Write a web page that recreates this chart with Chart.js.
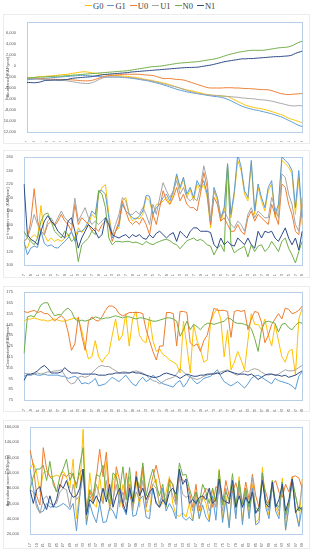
<!DOCTYPE html>
<html>
<head>
<meta charset="utf-8">
<script src="https://cdn.jsdelivr.net/npm/chart.js@4"></script>
<style>
    body { margin: 0; background: #fff; }
    #page { position: relative; width: 311px; height: 550px; overflow: hidden; }
    .legend { position: absolute; top: 0; left: 85px; height: 11px; display: flex; align-items: center;
              font-family: "Liberation Serif", "DejaVu Serif", serif; font-size: 8.5px; color: #404040; }
    .legend-item { display: flex; align-items: center; margin-right: 4px; }
    .legend-line { display: inline-block; width: 7px; height: 1.5px; margin-right: 1px; }
    .panel-box { position: absolute; left: 3px; width: 305px; border: 1px solid #ececec; }
    canvas { position: absolute; left: 4px; }
</style>
</head>
<body>
<div id="page">
    <div class="legend" id="legend"></div>
    <div class="panel-box" style="top:14px;height:128px"></div>
    <div class="panel-box" style="top:150px;height:126px"></div>
    <div class="panel-box" style="top:286px;height:124px"></div>
    <div class="panel-box" style="top:420px;height:127px"></div>
    <canvas id="abundanceChart" width="304" height="126" style="top:16px"></canvas>
    <canvas id="irrigationChart" width="304" height="126" style="top:150px"></canvas>
    <canvas id="connectivityChart" width="304" height="126" style="top:286px"></canvas>
    <canvas id="incomeChart" width="304" height="126" style="top:421px"></canvas>
</div>
<script>
// ---- data ----
const YEARS = [
    '2017','2018','2019','2020','2021','2022','2023','2024','2025','2026',
    '2027','2028','2029','2030','2031','2032','2033','2034','2035','2036',
    '2037','2038','2039','2040','2041','2042','2043','2044','2045','2046',
    '2047','2048','2049','2050','2051','2052','2053','2054','2055','2056',
    '2057','2058','2059','2060','2061','2062','2063','2064','2065','2066',
    '2067','2068','2069','2070','2071','2072','2073','2074','2075','2076',
    '2077','2078','2079','2080','2081','2082','2083','2084','2085','2086',
    '2087','2088','2089','2090','2091','2092','2093','2094','2095','2096',
    '2097','2098','2099'
];

const SERIES_NAMES = ['G0', 'G1', 'U0', 'U1', 'N0', 'N1'];
const SERIES_COLORS = ['#FFC000', '#5B9BD5', '#ED7D31', '#A5A5A5', '#70AD47', '#2B4A86'];

// Abundance (KAF/year)
const ABUNDANCE_G0 = [
    -2200,-2150,-2100,-2000,-1950, -1900,-1850,-1800,-1750,-1700, -1600,-1550,-1500,-1400,-1300,
    -1200,-1100,-1050,-1100,-1200, -1300,-1400,-1500,-1550,-1600, -1650,-1700,-1750,-1800,-1850,
    -1900,-2000,-2050,-2150,-2250, -2400,-2500,-2600,-2750,-2850, -3000,-3150,-3300,-3500,-3700,
    -3900,-4100,-4250,-4400,-4500, -4650,-4800,-4950,-5100,-5200, -5300,-5350,-5400,-5450,-5500,
    -5600,-5900,-6200,-6500,-6800, -7100,-7300,-7450,-7600,-7700, -7800,-7950,-8100,-8300,-8500,
    -8700,-8900,-9200,-9500,-9700, -9900,-10100,-10300
];
const ABUNDANCE_G1 = [
    -2500,-2450,-2400,-2350,-2300, -2250,-2200,-2150,-2100,-2050, -2000,-1950,-1900,-1850,-1800,
    -1750,-1700,-1700,-1750,-1800, -1850,-1900,-1950,-2000,-2000, -2000,-2000,-2000,-2050,-2100,
    -2150,-2200,-2300,-2400,-2500, -2600,-2700,-2850,-3000,-3150, -3300,-3500,-3700,-3900,-4100,
    -4300,-4450,-4600,-4750,-4850, -4950,-5050,-5150,-5250,-5350, -5450,-5550,-5600,-5700,-5900,
    -6100,-6400,-6700,-7000,-7300, -7500,-7700,-7850,-8000,-8100, -8250,-8400,-8550,-8700,-8900,
    -9100,-9300,-9600,-9900,-10200, -10500,-10800,-11000
];
const ABUNDANCE_U0 = [
    -2200,-2250,-2300,-2300,-2350, -2350,-2400,-2400,-2400,-2450, -2450,-2450,-2500,-2500,-2550,
    -2600,-2650,-2700,-2700,-2650, -2500,-2300,-2100,-1900,-1800, -1700,-1650,-1600,-1550,-1500,
    -1500,-1500,-1500,-1500,-1550, -1600,-1650,-1700,-1800,-2000, -2200,-2300,-2250,-2300,-2400,
    -2450,-2500,-2600,-2800,-3000, -3200,-3400,-3600,-3800,-3950, -4000,-4000,-4000,-4000,-3950,
    -3950,-3950,-4000,-4000,-4050, -4100,-4100,-4150,-4200,-4250, -4300,-4300,-4350,-4500,-4700,
    -4900,-5050,-5150,-5200,-5150, -5100,-5050,-5000
];
const ABUNDANCE_U1 = [
    -2200,-2250,-2300,-2350,-2400, -2450,-2500,-2500,-2550,-2600, -2600,-2650,-2700,-2800,-2900,
    -3000,-3100,-3150,-3200,-3100, -2900,-2600,-2300,-2100,-2000, -2000,-2000,-2000,-2000,-2050,
    -2100,-2150,-2200,-2300,-2400, -2500,-2600,-2700,-2850,-3000, -3150,-3300,-3450,-3600,-3750,
    -3900,-4100,-4300,-4500,-4700, -4850,-5000,-5100,-5200,-5250, -5300,-5350,-5400,-5450,-5500,
    -5550,-5600,-5650,-5700,-5800, -5850,-5900,-5950,-6000,-6100, -6150,-6200,-6300,-6400,-6550,
    -6700,-6850,-7000,-7150,-7250, -7250,-7200,-7250
];
const ABUNDANCE_N0 = [
    -2200,-2150,-2100,-2050,-2000, -2000,-1950,-1900,-1900,-1850, -1850,-1800,-1750,-1700,-1650,
    -1600,-1550,-1500,-1450,-1400, -1350,-1300,-1250,-1200,-1150, -1100,-1050,-1000,-950,-900,
    -850,-750,-650,-550,-450, -350,-250,-150,-100,-50, 0,100,200,300,400,
    500,550,600,650,700, 750,800,900,1000,1100, 1200,1300,1450,1650,1850,
    2050,2200,2350,2500,2600, 2700,2800,2850,2850,2850, 2850,2900,3000,3100,3200,
    3300,3350,3400,3500,3700, 4000,4300,4500
];
const ABUNDANCE_N1 = [
    -3000,-3000,-3050,-3000,-2900, -2700,-2600,-2600,-2550,-2550, -2550,-2500,-2450,-2300,-2200,
    -2150,-2100,-2050,-2000,-1950, -1850,-1750,-1650,-1550,-1500, -1450,-1400,-1350,-1300,-1250,
    -1200,-1100,-1050,-1000,-950, -900,-850,-800,-750,-700, -650,-600,-550,-500,-450,
    -400,-350,-300,-280,-260, -240,-200,-100,0,100, 200,350,500,650,800,
    900,1000,1100,1200,1300, 1300,1350,1350,1400,1450, 1500,1550,1600,1650,1700,
    1700,1750,1800,1850,2000, 2300,2500,2700
];

// Irrigation return (KAF/year)
const IRRIGATION_G0 = [
    130,125,140,145,140,188,145,135,140,135, 138,135,140,145,148,140,155,148,155,160,
    175,170,205,215,219,175,145,150,155,195, 200,175,165,170,168,175,200,195,175,190,
    190,195,200,190,205,232,212,228,200,212, 195,220,210,220,200,155,210,195,165,180,
    245,170,205,255,240,205,195,250,175,215, 195,180,210,220,170,185,255,250,245,235,
    175,230,160
];
const IRRIGATION_G1 = [
    135,115,125,128,126,150,132,128,130,126, 125,130,135,140,150,135,150,150,155,165,
    180,175,210,210,205,170,140,150,160,190, 180,175,170,168,172,180,203,202,175,185,
    190,200,205,195,210,235,215,230,205,215, 200,225,215,225,205,160,215,200,170,185,
    250,175,210,264,245,210,200,255,180,220, 200,185,215,225,175,190,260,255,250,240,
    185,240,170
];
const IRRIGATION_U0 = [
    135,140,165,213,165,150,145,160,165,158, 165,175,165,160,150,190,160,170,165,160,
    150,155,150,160,165,160,135,150,165,195, 180,165,160,165,160,170,160,145,175,160,
    185,210,195,190,200,215,195,205,190,185, 185,180,205,237,215,160,200,190,165,170,
    160,150,150,160,150,145,170,180,165,175, 170,165,160,190,175,160,220,215,190,175,
    150,145,190
];
const IRRIGATION_U1 = [
    135,140,155,175,160,150,145,165,170,160, 170,180,170,165,160,199,165,175,185,170,
    160,165,160,165,170,165,145,160,175,200, 195,175,175,180,175,185,175,160,190,175,
    200,222,210,200,210,225,205,215,200,195, 200,195,215,247,225,165,210,200,170,180,
    170,160,155,165,160,150,175,185,170,180, 175,170,170,200,185,170,235,230,205,190,
    160,150,200
];
const IRRIGATION_N0 = [
    150,140,135,130,140,165,175,177,165,150, 145,140,150,145,135,140,105,130,135,140,
    150,145,210,205,185,140,130,135,135,134, 135,135,133,134,132,130,135,132,130,133,
    135,137,138,136,132,130,124,130,136,138, 140,136,138,135,130,128,115,125,130,120,
    250,130,118,122,125,128,112,130,120,128, 130,120,125,135,128,120,135,140,125,115,
    103,120,135
];
const IRRIGATION_N1 = [
    220,145,138,135,130,150,165,173,165,160, 150,145,140,165,170,150,125,140,150,160,
    155,150,140,145,170,160,145,142,140,143, 145,140,145,142,145,140,138,145,140,147,
    150,145,140,145,148,135,150,145,140,150, 155,155,150,150,150,148,130,125,140,130,
    135,130,128,140,135,130,140,130,125,150, 140,150,148,150,140,135,145,155,140,130,
    140,122,150
];

// Connectivity (KAF/year)
const CONNECTIVITY_G0 = [
    148,150,150,151,150,149,149,148,149,150, 149,148,148,149,150,151,150,140,125,113,
    115,130,115,110,115,118,135,150,130,135, 155,125,150,157,135,130,128,152,130,120,
    122,117,115,112,110,108,100,148,125,100, 145,130,122,110,112,147,155,160,150,115,
    140,103,110,120,112,103,130,155,145,145, 140,150,135,125,145,130,115,110,120,122,
    98,150,160
];
const CONNECTIVITY_G1 = [
    97,98,98,99,98,98,99,98,98,98, 98,97,97,95,96,97,95,90,91,90,
    92,95,88,89,90,93,96,94,92,95, 98,94,90,88,93,96,92,94,98,95,
    92,90,89,88,87,91,93,87,91,97, 93,90,92,95,96,97,100,103,97,92,
    90,88,90,92,89,86,90,95,97,98, 96,94,92,90,95,93,92,91,90,88,
    85,97,101
];
const CONNECTIVITY_U0 = [
    157,156,157,158,156,157,155,155,152,148, 151,153,150,138,121,127,152,135,121,148,
    152,149,148,152,158,162,162,160,155,153, 154,156,156,156,156,155,140,130,120,112,
    125,125,156,156,155,125,157,157,156,128, 125,127,120,130,135,148,160,158,158,158,
    157,133,157,158,157,158,140,150,157,156, 147,128,135,145,150,155,150,160,159,155,
    156,158,162
];
const CONNECTIVITY_U1 = [
    100,99,98,99,100,99,100,101,101,102, 102,103,98,92,90,91,96,97,96,97,
    100,103,106,107,106,106,104,102,100,101, 101,100,101,102,101,100,98,95,93,92,
    90,92,94,95,96,99,104,101,98,96, 95,94,95,97,98,99,100,100,101,102,
    103,101,99,98,100,102,101,103,104,103, 101,99,98,99,98,99,101,103,102,102,
    103,105,107
];
const CONNECTIVITY_N0 = [
    118,152,153,152,157,163,165,165,158,153, 154,154,158,160,157,150,148,149,148,149,
    150,152,151,150,151,151,152,153,152,151, 152,152,151,150,151,151,150,149,148,148,
    149,150,151,151,150,148,134,140,148,140, 145,143,140,144,146,146,145,146,147,148,
    151,150,147,146,146,145,144,141,132,120, 140,147,148,147,146,138,145,146,142,140,
    144,147,146
];
const CONNECTIVITY_N1 = [
    93,99,99,100,102,105,107,104,100,100, 100,101,105,102,100,100,100,99,99,99,
    99,99,98,98,98,99,99,100,100,100, 100,100,101,100,100,99,98,97,96,96,
    97,99,100,99,98,97,95,97,99,98, 97,97,98,98,99,99,99,100,99,101,
    102,101,100,99,99,99,98,99,97,94, 96,98,99,99,98,98,97,98,96,97,
    98,100,102
];

// Agricultural income (K$/year), read in thousands
const INCOME_G0_K = [
    105,113,100,75,100,102,95,95,97,95, 102,95,80,118,40,75,157,35,100,60,
    55,95,60,115,50,90,100,55,85,65, 95,50,90,55,108,50,50,85,92,55,
    60,75,95,60,45,43,48,42,60,37, 75,40,70,60,38,80,55,105,40,70,
    30,85,45,95,35,80,45,85,35,40, 107,60,45,90,55,45,93,25,60,95,
    55,30,92
];
const INCOME_G1_K = [
    105,80,60,48,50,60,55,56,55,57, 60,57,52,60,24,70,105,32,60,45,
    35,60,35,36,55,50,40,75,55,45, 85,43,45,65,70,42,40,80,62,55,
    80,50,60,52,40,105,42,38,42,37, 65,40,58,42,36,70,38,90,35,65,
    28,80,40,88,32,75,40,80,32,35, 100,55,40,85,50,40,88,25,55,90,
    50,30,55
];
const INCOME_U0_K = [
    130,110,70,58,133,105,95,90,75,80, 98,95,100,95,85,100,105,55,75,65,
    95,131,95,127,70,60,108,90,55,100, 70,60,102,70,108,55,75,95,110,90,
    65,60,92,85,60,100,90,88,75,55, 85,50,70,80,75,55,82,78,60,90,
    70,75,87,70,60,88,65,98,70,55, 92,75,60,85,90,75,68,85,75,95,
    96,93,80
];
const INCOME_U1_K = [
    78,75,55,47,65,70,60,58,60,75, 80,78,55,85,65,70,100,50,70,60,
    85,70,60,90,55,65,85,60,75,55, 85,55,75,65,90,60,70,85,80,60,
    70,65,85,70,58,95,72,68,70,50, 75,55,65,72,50,65,55,85,50,80,
    60,85,55,85,55,75,55,95,50,50, 90,65,50,82,60,50,85,40,62,88,
    70,50,85
];
const INCOME_N0_K = [
    78,95,105,105,110,90,115,85,75,95, 105,118,90,100,80,110,133,45,78,70,
    98,95,110,70,60,100,95,75,108,65, 107,60,95,80,113,70,90,105,85,70,
    85,55,90,85,65,113,97,98,80,65, 75,60,85,75,60,80,62,103,58,75,
    65,99,55,90,60,80,55,75,55,50, 100,65,58,90,60,55,88,45,60,92,
    70,50,56
];
const INCOME_N1_K = [
    78,60,78,82,62,52,70,55,65,85, 80,90,75,68,70,80,105,45,65,60,
    70,60,80,62,85,55,70,80,60,48, 80,62,95,70,80,65,75,80,60,55,
    65,58,75,80,72,105,85,92,60,65, 60,68,70,65,80,60,65,92,65,62,
    60,90,55,70,55,68,60,75,47,55, 90,60,55,88,55,65,85,50,65,92,
    48,55,52
];

/**
 * Plot area frame (Excel style light blue box)
 */
const plotFramePlugin = {
    id: 'plotFrame',
    beforeDatasetsDraw(chart) {
        const { ctx, chartArea: a } = chart;
        ctx.save();
        ctx.strokeStyle = '#B7CFE8';
        ctx.lineWidth = 1;
        ctx.strokeRect(Math.round(a.left) + 0.5, Math.round(a.top) + 0.5,
                       Math.round(a.right - a.left), Math.round(a.bottom - a.top));
        ctx.restore();
    }
};

const AXIS_FONT = { family: '"Liberation Sans Narrow", "Liberation Sans", Arial, sans-serif', size: 4 };
const AXIS_COLOR = '#595959';

const fmt = v => Number(v).toLocaleString('en-US');

const Panels = [
    {
        canvas: 'abundanceChart', title: 'Abundance (KAF/year)',
        series: [ABUNDANCE_G0, ABUNDANCE_G1, ABUNDANCE_U0, ABUNDANCE_U1, ABUNDANCE_N0, ABUNDANCE_N1],
        min: -12000, max: 8000, step: 2000, tension: 0.4,
        padTop: 6, yWidth: 23, xHeight: 10,
        label: v => (v >= 8000 ? '' : fmt(v))
    },
    {
        canvas: 'irrigationChart', title: 'Irrigation return (KAF/year)',
        series: [IRRIGATION_G0, IRRIGATION_G1, IRRIGATION_U0, IRRIGATION_U1, IRRIGATION_N0, IRRIGATION_N1],
        min: 100, max: 260, step: 20, tension: 0,
        padTop: 7, yWidth: 20, xHeight: 11,
        label: fmt
    },
    {
        canvas: 'connectivityChart', title: 'Connectivity (KAF/year)',
        series: [CONNECTIVITY_G0, CONNECTIVITY_G1, CONNECTIVITY_U0, CONNECTIVITY_U1, CONNECTIVITY_N0, CONNECTIVITY_N1],
        min: 75, max: 175, step: 10, tension: 0,
        padTop: 6, yWidth: 20, xHeight: 12,
        label: fmt
    },
    {
        canvas: 'incomeChart', title: 'Agricultural income (K$/year)',
        series: [INCOME_G0_K, INCOME_G1_K, INCOME_U0_K, INCOME_U1_K, INCOME_N0_K, INCOME_N1_K]
            .map(s => s.map(v => v * 1000)),
        min: 20000, max: 160000, step: 20000, tension: 0,
        padTop: 6, yWidth: 26, xHeight: 13,
        label: fmt
    }
];

/**
 * Build the shared legend
 */
function renderLegend() {
    document.getElementById('legend').innerHTML = SERIES_NAMES.map((name, i) => `
        <span class="legend-item">
            <span class="legend-line" style="background:${SERIES_COLORS[i]}"></span>${name}
        </span>
    `).join('');
}

/**
 * Build one panel chart
 */
function buildChart(panel) {
    const ctx = document.getElementById(panel.canvas).getContext('2d');

    return new Chart(ctx, {
        type: 'line',
        data: {
            labels: YEARS,
            datasets: panel.series.map((values, i) => ({
                label: SERIES_NAMES[i],
                data: values,
                borderColor: SERIES_COLORS[i],
                backgroundColor: SERIES_COLORS[i],
                borderWidth: 1,
                pointRadius: 0,
                fill: false,
                tension: panel.tension,
                order: SERIES_NAMES.length - i
            }))
        },
        options: {
            responsive: false,
            animation: false,
            devicePixelRatio: 1,
            layout: { padding: { top: panel.padTop, right: 3, bottom: 0, left: 0 } },
            plugins: {
                legend: { display: false },
                tooltip: { enabled: false }
            },
            scales: {
                x: {
                    grid: { display: false },
                    border: { display: false },
                    ticks: {
                        autoSkip: false,
                        minRotation: 90,
                        maxRotation: 90,
                        padding: 1,
                        font: AXIS_FONT,
                        color: AXIS_COLOR,
                        callback(value, index) {
                            return index % 2 === 0 ? this.getLabelForValue(value) : '';
                        }
                    },
                    afterFit(scale) { scale.height = panel.xHeight; }
                },
                y: {
                    min: panel.min,
                    max: panel.max,
                    grid: { display: false },
                    border: { display: false },
                    ticks: {
                        stepSize: panel.step,
                        padding: 3,
                        font: AXIS_FONT,
                        color: AXIS_COLOR,
                        callback: panel.label
                    },
                    title: {
                        display: true,
                        text: panel.title,
                        font: { family: AXIS_FONT.family, size: 4 },
                        color: AXIS_COLOR,
                        padding: { top: 1, bottom: 0 }
                    },
                    afterFit(scale) { scale.width = panel.yWidth; }
                }
            }
        },
        plugins: [plotFramePlugin]
    });
}

renderLegend();
Panels.forEach(buildChart);
</script>
</body>
</html>
